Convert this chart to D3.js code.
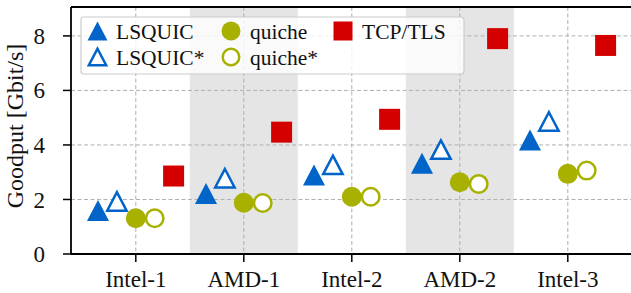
<!DOCTYPE html>
<html>
<head>
<meta charset="utf-8">
<script src="https://cdn.jsdelivr.net/npm/d3@7"></script>
<style>
  body { margin: 0; background: #fff; }
  svg text { font-family: "Liberation Serif", serif; fill: #111; }
</style>
</head>
<body>
<svg id="chart" width="631" height="293"></svg>
<script>
const categories = ["Intel-1", "AMD-1", "Intel-2", "AMD-2", "Intel-3"];
const lsquic     = [1.60, 2.22, 2.90, 3.33, 4.18];
const lsquicStar = [1.93, 2.78, 3.27, 3.83, 4.86];
const quiche     = [1.31, 1.88, 2.10, 2.63, 2.94];
const quicheStar = [1.31, 1.87, 2.10, 2.57, 3.06];
const tcpTls     = [2.86, 4.47, 4.94, 7.90, 7.65];
const yTicks = [0, 2, 4, 6, 8];
const shaded = ["AMD-1", "AMD-2"];

const blue = "#0064c8", olive = "#a8b000", red = "#d40000";

const series = [
  {name: "LSQUIC",  values: lsquic,     shape: "tri", filled: true,  color: blue,  off: -0.35},
  {name: "LSQUIC*", values: lsquicStar, shape: "tri", filled: false, color: blue,  off: -0.175},
  {name: "quiche",  values: quiche,     shape: "circ", filled: true,  color: olive, off: 0},
  {name: "quiche*", values: quicheStar, shape: "circ", filled: false, color: olive, off: 0.175},
  {name: "TCP/TLS", values: tcpTls,     shape: "sq",  filled: true,  color: red,   off: 0.35}
];

const svg = d3.select("#chart");
const plotLeft = 71, plotTop = 7, plotBottom = 254;

// category index -> pixel
const x = d3.scaleLinear().domain([-0.6, 4.6]).range([plotLeft, plotLeft + 5.2 * 108]);
const y = d3.scaleLinear().domain([0, 9.06]).range([plotBottom, plotTop]);

// shaded bands
svg.append("g").selectAll("rect")
  .data(shaded)
  .enter().append("rect")
  .attr("x", d => x(categories.indexOf(d) - 0.5))
  .attr("width", x(1) - x(0))
  .attr("y", plotTop)
  .attr("height", plotBottom - plotTop)
  .attr("fill", "#e5e5e5");

// grid
const grid = svg.append("g")
  .attr("stroke", "#b0b0b0").attr("stroke-width", 1).attr("stroke-dasharray", "4,2.5");
grid.selectAll("line.h").data(yTicks.filter(t => t > 0)).enter().append("line")
  .attr("x1", plotLeft).attr("x2", 631).attr("y1", d => y(d)).attr("y2", d => y(d));
grid.selectAll("line.v").data(categories).enter().append("line")
  .attr("x1", (d, i) => x(i)).attr("x2", (d, i) => x(i)).attr("y1", plotTop).attr("y2", plotBottom);

// marker shapes
function shapePath(shape, s) {
  if (shape === "tri") {
    const w = s * 1.05, h = s;
    return `M0,${-h/2}L${w/2},${h/2}L${-w/2},${h/2}Z`;
  }
  if (shape === "sq") return `M${-s/2},${-s/2}h${s}v${s}h${-s}Z`;
  return d3.symbol(d3.symbolCircle, Math.PI * (s / 2) * (s / 2))();
}
function drawMarker(g, sr, cx, cy, s) {
  g.append("path")
    .attr("d", shapePath(sr.shape, sr.filled ? s : s - 2.5))
    .attr("transform", `translate(${cx},${cy})`)
    .attr("fill", sr.filled ? sr.color : "#fff")
    .attr("stroke", sr.filled ? "none" : sr.color)
    .attr("stroke-width", sr.filled ? 0 : 2.5)
    .attr("stroke-linejoin", "miter");
}
const sizes = {tri: 21, circ: 20, sq: 21};

const marks = svg.append("g");
series.forEach(sr => {
  sr.values.forEach((v, i) => {
    drawMarker(marks, sr, x(i + sr.off), y(v), sizes[sr.shape]);
  });
});

// spines
svg.append("line").attr("x1", plotLeft).attr("x2", 631).attr("y1", plotTop).attr("y2", plotTop)
  .attr("stroke", "#000").attr("stroke-width", 1.8);
svg.append("line").attr("x1", plotLeft).attr("x2", 631).attr("y1", plotBottom).attr("y2", plotBottom)
  .attr("stroke", "#000").attr("stroke-width", 1.8);
svg.append("line").attr("x1", plotLeft).attr("x2", plotLeft).attr("y1", plotTop).attr("y2", plotBottom)
  .attr("stroke", "#000").attr("stroke-width", 1.8);

// y ticks
const yAx = svg.append("g");
yTicks.forEach(t => {
  yAx.append("line").attr("x1", plotLeft - 8).attr("x2", plotLeft).attr("y1", y(t)).attr("y2", y(t))
    .attr("stroke", "#000").attr("stroke-width", 1.5);
  yAx.append("text").attr("x", 45).attr("y", y(t)).attr("dy", "0.35em")
    .attr("text-anchor", "end").attr("font-size", 23).text(t);
});

// x ticks
const xAx = svg.append("g");
categories.forEach((c, i) => {
  xAx.append("line").attr("x1", x(i)).attr("x2", x(i)).attr("y1", plotBottom).attr("y2", plotBottom + 8)
    .attr("stroke", "#000").attr("stroke-width", 1.5);
  xAx.append("text").attr("x", x(i)).attr("y", 287)
    .attr("text-anchor", "middle").attr("font-size", 23).text(c);
});

// y label
svg.append("text")
  .attr("transform", "translate(23,126) rotate(-90)")
  .attr("text-anchor", "middle").attr("font-size", 24)
  .text("Goodput [Gbit/s]");

// legend
const lg = svg.append("g");
lg.append("rect").attr("x", 81).attr("y", 17).attr("width", 383).attr("height", 57)
  .attr("rx", 3).attr("fill", "#fff").attr("fill-opacity", 0.8)
  .attr("stroke", "#cccccc").attr("stroke-width", 1.2);
const legendPos = [
  {mx: 97.5, tx: 116, y: 31},
  {mx: 97.5, tx: 116, y: 57},
  {mx: 231, tx: 250, y: 31},
  {mx: 231, tx: 250, y: 57},
  {mx: 343, tx: 362, y: 31}
];
series.forEach((sr, k) => {
  const p = legendPos[k];
  drawMarker(lg, sr, p.mx, p.y, 19);
  lg.append("text").attr("x", p.tx).attr("y", p.y).attr("dy", "0.35em")
    .attr("font-size", 21.5).text(sr.name);
});
</script>
</body>
</html>
